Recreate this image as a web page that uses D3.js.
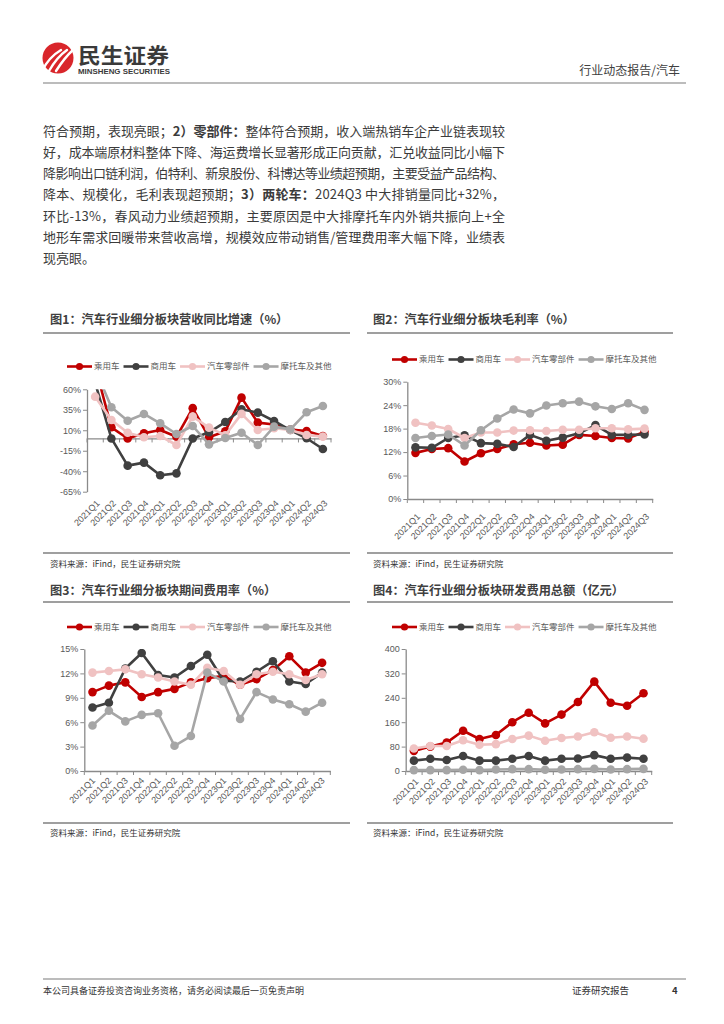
<!DOCTYPE html>
<html><head><meta charset="utf-8">
<script src="https://cdn.jsdelivr.net/npm/d3@7"></script>
<style>
body{margin:0;background:#fff;}
svg{display:block;font-family:"Noto Sans CJK SC","Liberation Sans",sans-serif;}
</style></head>
<body>
<svg id="page" width="724" height="1024"></svg>
<script>
// ---------------- data ----------------
const quarters = ['2021Q1','2021Q2','2021Q3','2021Q4','2022Q1','2022Q2','2022Q3','2022Q4','2023Q1','2023Q2','2023Q3','2023Q4','2024Q1','2024Q2','2024Q3'];
const seriesNames = ['乘用车','商用车','汽车零部件','摩托车及其他'];

// 图1 营收同比增速 (%)
const revPassenger  = [88, 13.6, 0, 6.3, 10.3, 2, 37, 1.4, 8.7, 49.8, 19.3, 17, 11, 9, 3];
const revCommercial = [68, 0, -33.2, -29.5, -45, -42.6, 0, 7.5, 20, 35.6, 31.5, 21.3, 10.3, 0.2, -12.9];
const revParts      = [51, 22.5, 7, 1.4, 3, -8, 26.6, 13.2, 4, 30, 10.3, 12.4, 10.3, 4.2, 2.2];
const revMoto       = [85, 38, 21.7, 29.9, 18.5, 5.4, 15.2, -7.2, 0.6, 7, -8, 14.4, 11.1, 31.9, 39.6];
const revTicks = [-65, -40, -15, 10, 35, 60];

// 图2 毛利率 (%)
const gmPassenger  = [11.8, 12.8, 13, 9.6, 11.7, 12.8, 14, 14.4, 13.7, 13.9, 16.4, 16.1, 15.6, 15.5, 17.2];
const gmCommercial = [13.2, 13.1, 15.6, 16.3, 14.3, 14.1, 13.3, 16.4, 14.9, 15.7, 16.8, 18.9, 16.4, 16.4, 16.5];
const gmParts      = [19.5, 18.8, 17.9, 15.6, 17, 17, 17.5, 17.6, 17.4, 17.7, 17.7, 18.1, 18.1, 17.8, 18];
const gmMoto       = [15.6, 16.1, 16.5, 13.7, 17.6, 20.6, 22.9, 21.9, 23.9, 24.5, 24.9, 23.7, 23, 24.5, 22.8];
const gmTicks = [0, 6, 12, 18, 24, 30];

// 图3 期间费用率 (%)
const erPassenger  = [9.7, 10.5, 10.9, 9.1, 9.7, 10.1, 10.9, 11.4, 11.7, 10.6, 11.3, 12.4, 14.1, 12.1, 13.3];
const erCommercial = [7.8, 8.4, 12.6, 14.5, 11.8, 11.5, 12.9, 14.3, 11.1, 11.0, 12.2, 13.5, 11.0, 10.7, 12.1];
const erParts      = [12.1, 12.3, 12.5, 11.9, 11.5, 11.0, 10.6, 12.7, 12.3, 10.6, 11.9, 12.2, 11.9, 11.2, 11.9];
const erMoto       = [5.6, 7.4, 6.1, 6.9, 7.1, 3.1, 4.3, 12.1, 11.0, 6.4, 9.7, 8.8, 8.2, 7.3, 8.4];
const erTicks = [0, 3, 6, 9, 12, 15];

// 图4 研发费用总额 (亿元)
const rdPassenger  = [66, 80, 93, 132, 105, 118, 160, 191, 156, 185, 226, 293, 224, 214, 255];
const rdCommercial = [34, 40, 36, 49, 34, 34, 40, 49, 34, 40, 41, 52, 40, 44, 40];
const rdParts      = [74, 82, 82, 101, 86, 88, 105, 116, 99, 108, 113, 127, 109, 113, 106];
const rdMoto       = [3, 3, 3, 4, 3, 5, 6, 6, 4, 5, 6, 7, 5, 6, 7];
const rdTicks = [0, 80, 160, 240, 320, 400];

const chartTitles = ['图1：汽车行业细分板块营收同比增速（%）','图2：汽车行业细分板块毛利率（%）','图3：汽车行业细分板块期间费用率（%）','图4：汽车行业细分板块研发费用总额（亿元）'];
const sourceText = '资料来源：iFind，民生证券研究院';

const paragraph = [
  [['符合预期，表现亮眼；',0],['2）零部件：',1],['整体符合预期，收入端热销车企产业链表现较',0]],
  [['好，成本端原材料整体下降、海运费增长显著形成正向贡献，汇兑收益同比小幅下',0]],
  [['降影响出口链利润，伯特利、新泉股份、科博达等业绩超预期，主要受益产品结构、',0]],
  [['降本、规模化，毛利表现超预期；',0],['3）两轮车：',1],['2024Q3 中大排销量同比+32%，',0]],
  [['环比-13%，春风动力业绩超预期，主要原因是中大排摩托车内外销共振向上+全',0]],
  [['地形车需求回暖带来营收高增，规模效应带动销售/管理费用率大幅下降，业绩表',0]],
  [['现亮眼。',0]]
];

// ---------------- styles ----------------
const colors = ['#C00000','#404040','#F0C2C2','#A6A6A6'];
const axisColor = '#8a8a8a';
const labelColor = '#595959';
const svg = d3.select('#page');

// ---------------- header ----------------
const logo = svg.append('g');
logo.append('circle').attr('cx',58).attr('cy',58).attr('r',15.5).attr('fill','#D9262B');
[[-6,0],[0,0],[6,0]].forEach((o,i)=>{
  logo.append('path')
    .attr('d',`M${48+o[0]+i*1},${71} Q${55+o[0]+i*2},${57} ${67+o[0]},${50}`)
    .attr('stroke','#fff').attr('stroke-width',2.4).attr('fill','none').attr('stroke-linecap','round');
});
svg.append('text').attr('x',78).attr('y',63).attr('font-size',21).attr('font-weight',700)
  .attr('fill','#3a3a3a').attr('textLength',91).attr('lengthAdjust','spacingAndGlyphs').text('民生证券');
svg.append('text').attr('x',78).attr('y',74).attr('font-size',7).attr('font-weight',700)
  .attr('font-family','"Liberation Sans Narrow","Liberation Sans",sans-serif')
  .attr('fill','#3a3a3a').attr('textLength',92).attr('lengthAdjust','spacingAndGlyphs').text('MINSHENG SECURITIES');
svg.append('text').attr('x',680).attr('y',75).attr('font-size',12).attr('text-anchor','end')
  .attr('fill','#404040').text('行业动态报告/汽车');
svg.append('line').attr('x1',43).attr('x2',686).attr('y1',83).attr('y2',83).attr('stroke','#7a7a7a').attr('stroke-width',1.2);

// ---------------- paragraph ----------------
const paraX = 43, paraW = 462, paraY0 = 135.5, paraLH = 21.3;
paragraph.forEach((segs,i)=>{
  const t = svg.append('text').attr('x',paraX).attr('y',paraY0+i*paraLH)
    .attr('font-size',13).attr('fill','#3b3b3b');
  segs.forEach(s=>{ t.append('tspan').attr('font-weight',s[1]?700:400).text(s[0]); });
  if(i < paragraph.length-1){
    const w = t.node().getComputedTextLength();
    const n = segs.map(s=>s[0]).join('').length;
    t.attr('letter-spacing', ((paraW - w)/(n-1)).toFixed(3));
  }
});

// ---------------- footer ----------------
svg.append('line').attr('x1',43).attr('x2',686).attr('y1',979).attr('y2',979).attr('stroke','#7a7a7a').attr('stroke-width',1.2);
svg.append('text').attr('x',43).attr('y',994).attr('font-size',9).attr('fill','#333').text('本公司具备证券投资咨询业务资格，请务必阅读最后一页免责声明');
svg.append('text').attr('x',572).attr('y',994).attr('font-size',9.5).attr('fill','#333').text('证券研究报告');
svg.append('text').attr('x',672).attr('y',994).attr('font-size',9.5).attr('font-weight',700).attr('fill','#333').text('4');

// ---------------- chart frames ----------------
function frame(x1,x2,titleY,lineY,title,tx){
  svg.append('text').attr('x',tx).attr('y',titleY+4.5).attr('font-size',12.2).attr('font-weight',700)
    .attr('fill','#404040').text(title);
  svg.append('line').attr('x1',x1).attr('x2',x2).attr('y1',lineY).attr('y2',lineY).attr('stroke','#7f7f7f').attr('stroke-width',1.5);
}
function source(x1,x2,lineY,textY,tx){
  svg.append('line').attr('x1',x1).attr('x2',x2).attr('y1',lineY).attr('y2',lineY).attr('stroke','#7f7f7f').attr('stroke-width',1.5);
  svg.append('text').attr('x',tx).attr('y',textY+3).attr('font-size',8.5).attr('fill','#333').text(sourceText);
}
frame(43,350,319,333,chartTitles[0],50);
frame(367,673,319,333,chartTitles[1],373);
source(43,350,553,564,50);
source(367,673,553,564,373);
frame(43,350,590,602,chartTitles[2],50);
frame(367,673,590,602,chartTitles[3],373);
source(43,350,823,833,50);
source(367,673,823,833,373);

// ---------------- charts ----------------
let clipId = 0;
function drawChart(cfg){
  const g = svg.append('g');
  const x = d3.scaleBand().domain(quarters).range([cfg.x0,cfg.x1]);
  const y = d3.scaleLinear().domain(cfg.domain).range([cfg.yBot,cfg.yTop]);
  const bw = x.bandwidth();
  const cx = q => x(q) + bw/2;

  // legend
  let lx = cfg.legendX;
  seriesNames.forEach((name,i)=>{
    const lg = g.append('g');
    lg.append('line').attr('x1',lx).attr('x2',lx+25).attr('y1',cfg.legendY).attr('y2',cfg.legendY)
      .attr('stroke',colors[i]).attr('stroke-width',2.6);
    lg.append('circle').attr('cx',lx+12.5).attr('cy',cfg.legendY).attr('r',3.6).attr('fill',colors[i]);
    const t = lg.append('text').attr('x',lx+27).attr('y',cfg.legendY).attr('dy','0.35em')
      .attr('font-size',8.5).attr('fill',labelColor).text(name);
    lx = lx + 27 + t.node().getComputedTextLength() + 4;
  });

  // y axis
  const ya = g.append('g').attr('transform',`translate(${cfg.x0},0)`)
    .call(d3.axisLeft(y).tickValues(cfg.ticks).tickFormat(d=>d+cfg.unit).tickSize(4).tickPadding(2).tickSizeOuter(0));
  ya.select('.domain').attr('stroke',axisColor).attr('stroke-width',1.3);
  ya.selectAll('.tick line').attr('stroke',axisColor).attr('stroke-width',1);
  ya.selectAll('.tick text').attr('fill',labelColor).attr('font-size',9)
    .attr('font-family','"Liberation Sans",sans-serif');

  // x axis (line at baseline, ticks at band boundaries, labels at bottom)
  const base = y(cfg.base);
  const xa = g.append('g').attr('transform',`translate(0,${base})`)
    .call(d3.axisBottom(x).tickSize(0).tickFormat('').tickSizeOuter(0));
  xa.select('.domain').attr('stroke',axisColor).attr('stroke-width',1.3);
  d3.range(quarters.length+1).forEach(i=>{
    const px = cfg.x0 + i*x.step();
    g.append('line').attr('x1',px).attr('x2',px).attr('y1',base).attr('y2',base+4)
      .attr('stroke',axisColor).attr('stroke-width',1);
  });
  quarters.forEach(q=>{
    const px = cx(q)+cfg.ldx, py = cfg.yBot+cfg.ldy;
    g.append('text').attr('x',px).attr('y',py).attr('dy','0.35em')
      .attr('text-anchor','end').attr('transform',`rotate(-45,${px},${py})`)
      .attr('font-size',9).attr('fill',labelColor).attr('font-family','"Liberation Sans",sans-serif')
      .text(q);
  });

  // series
  const id = 'clip'+(clipId++);
  svg.append('clipPath').attr('id',id).append('rect')
    .attr('x',cfg.x0-10).attr('y',cfg.yTop).attr('width',cfg.x1-cfg.x0+20).attr('height',cfg.yBot-cfg.yTop+10);
  const sg = g.append('g').attr('clip-path',`url(#${id})`);
  const line = d3.line().x((d,i)=>cx(quarters[i])).y(d=>y(d));
  cfg.series.forEach((vals,i)=>{
    sg.append('path').datum(vals).attr('d',line).attr('fill','none')
      .attr('stroke',colors[i]).attr('stroke-width',2.6).attr('stroke-linejoin','round');
    sg.selectAll(null).data(vals).enter().append('circle')
      .attr('cx',(d,j)=>cx(quarters[j])).attr('cy',d=>y(d)).attr('r',4.3).attr('fill',colors[i]);
  });
}

drawChart({x0:87,x1:331,yTop:389.3,yBot:491.7,domain:[-65,60],ticks:revTicks,unit:'%',base:0,
  legendX:67,legendY:366.5,ldx:3,ldy:10,series:[revPassenger,revCommercial,revParts,revMoto]});
drawChart({x0:407.3,x1:652.7,yTop:381.7,yBot:499,domain:[0,30],ticks:gmTicks,unit:'%',base:0,
  legendX:392,legendY:359.5,ldx:3,ldy:16,series:[gmPassenger,gmCommercial,gmParts,gmMoto]});
drawChart({x0:84.3,x1:330.3,yTop:649,yBot:771,domain:[0,15],ticks:erTicks,unit:'%',base:0,
  legendX:67,legendY:627,ldx:1,ldy:8,series:[erPassenger,erCommercial,erParts,erMoto]});
drawChart({x0:405.7,x1:651.7,yTop:649,yBot:771,domain:[0,400],ticks:rdTicks,unit:'',base:0,
  legendX:392,legendY:627,ldx:3,ldy:9,series:[rdPassenger,rdCommercial,rdParts,rdMoto]});
</script>
</body></html>
